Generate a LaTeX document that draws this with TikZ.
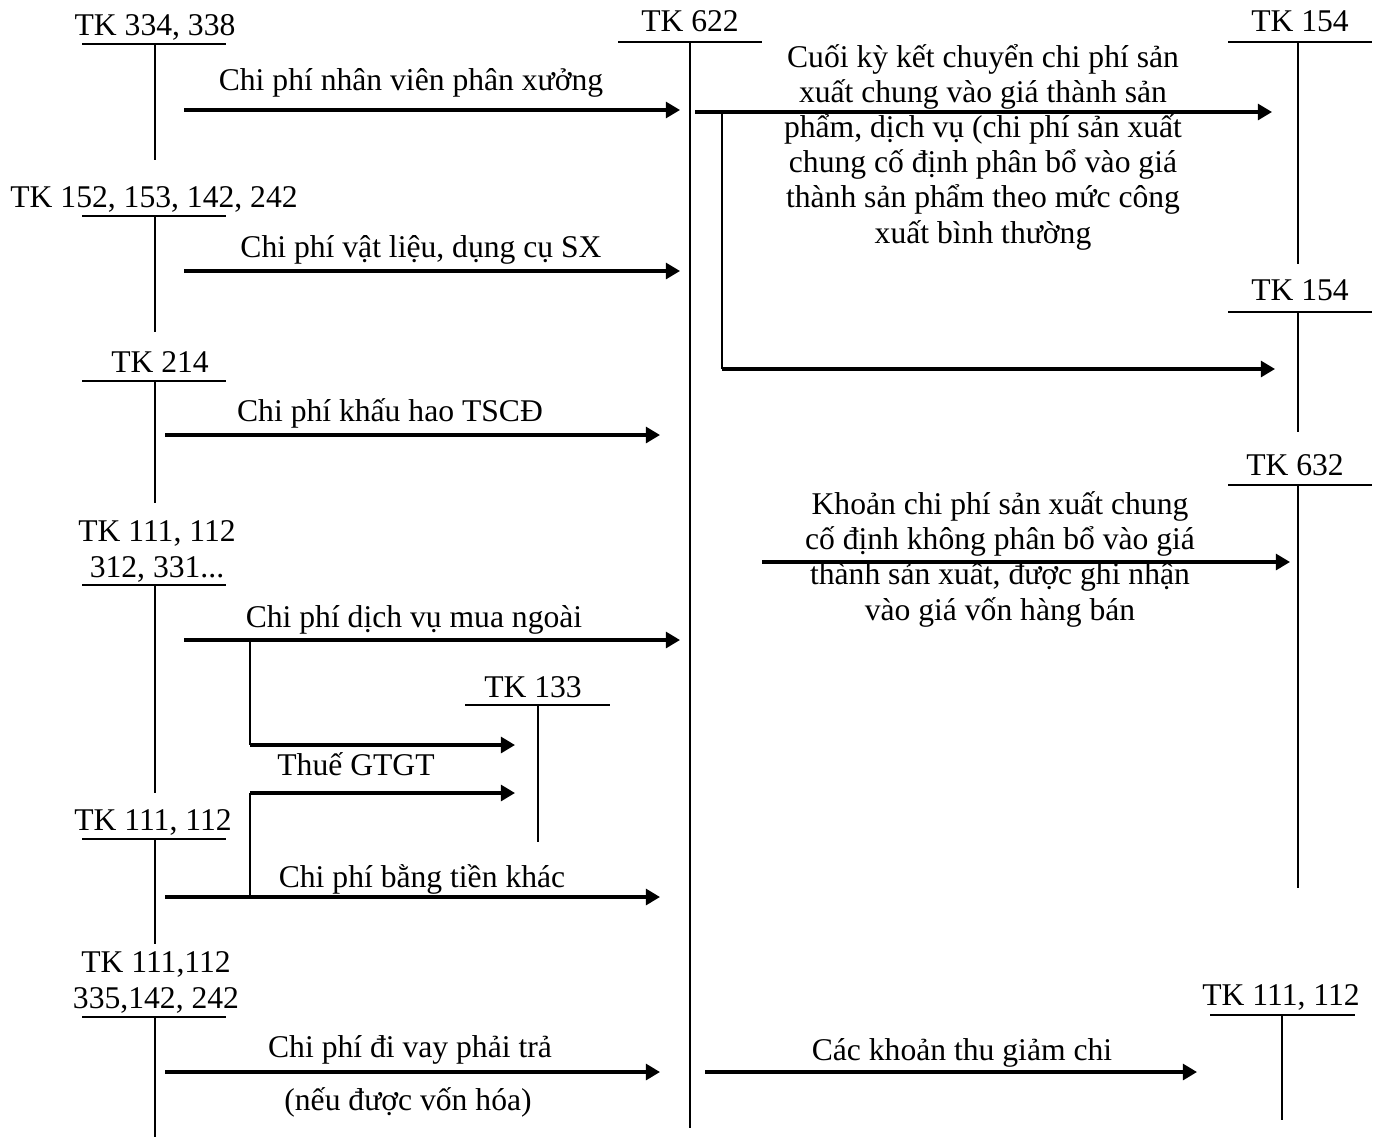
\documentclass[tikz,border=0pt]{standalone}
\usepackage{fontspec}
\setmainfont{Liberation Serif}
\usetikzlibrary{arrows.meta, positioning}

\tikzset{
  tline/.style={line width=1.1pt},
  thin branch/.style={line width=1.1pt},
  flow/.style={line width=1.8pt, -{Triangle[length=8pt, width=9pt]}},
  acct/.style={font=\fontsize{18}{20}\selectfont, anchor=base, inner sep=0pt, align=center},
  flowlabel/.style={font=\fontsize{18}{20}\selectfont, anchor=base, inner sep=0pt, align=center},
}

\begin{document}
\begin{tikzpicture}[x=0.02cm, y=-0.02cm]
  \useasboundingbox (0,0) rectangle (1382,1137);

  % --- Left accounts ---
  % TK 334, 338
  \node[acct] (tk334) at (155,35) {TK 334, 338};
  \draw[tline] (82,44) -- (226,44);
  \draw[tline] (155,44) -- (155,160);
  % TK 152, 153, 142, 242
  \node[acct] (tk152) at (154,207) {TK 152, 153, 142, 242};
  \draw[tline] (82,216) -- (226,216);
  \draw[tline] (155,216) -- (155,332);
  % TK 214
  \node[acct] (tk214) at (160,372) {TK 214};
  \draw[tline] (82,381) -- (226,381);
  \draw[tline] (155,381) -- (155,503);
  % TK 111, 112 / 312, 331...
  \node[acct] (tk111a) at (157,577) {TK 111, 112\\312, 331...};
  \draw[tline] (82,585) -- (226,585);
  \draw[tline] (155,585) -- (155,793);
  % TK 111, 112
  \node[acct] (tk111b) at (153,830) {TK 111, 112};
  \draw[tline] (82,839) -- (226,839);
  \draw[tline] (155,839) -- (155,944);
  % TK 111,112 / 335,142, 242
  \node[acct] (tk111c) at (156,1008) {TK 111,112\\335,142, 242};
  \draw[tline] (82,1017) -- (226,1017);
  \draw[tline] (155,1017) -- (155,1137);

  % --- Middle accounts ---
  % TK 622
  \node[acct] (tk622) at (690,31) {TK 622};
  \draw[tline] (618,42) -- (762,42);
  \draw[tline] (690,42) -- (690,1128);
  % TK 133
  \node[acct] (tk133) at (533,697) {TK 133};
  \draw[tline] (465,705) -- (610,705);
  \draw[tline] (538,705) -- (538,842);

  % --- Right accounts ---
  % TK 154 (top)
  \node[acct] (tk154a) at (1300,31) {TK 154};
  \draw[tline] (1228,42) -- (1372,42);
  \draw[tline] (1298,42) -- (1298,264);
  % TK 154 (second)
  \node[acct] (tk154b) at (1300,300) {TK 154};
  \draw[tline] (1228,312) -- (1372,312);
  \draw[tline] (1298,312) -- (1298,432);
  % TK 632
  \node[acct] (tk632) at (1295,475) {TK 632};
  \draw[tline] (1228,485) -- (1372,485);
  \draw[tline] (1298,485) -- (1298,888);
  % TK 111, 112 (right)
  \node[acct] (tk111d) at (1281,1005) {TK 111, 112};
  \draw[tline] (1210,1015) -- (1355,1015);
  \draw[tline] (1282,1015) -- (1282,1120);

  % --- Flows into TK 622 ---
  \coordinate (a1s) at (184,110);  \coordinate (a1e) at (680,110);
  \draw[flow] (a1s) -- (a1e);
  \node[flowlabel] (l1) at (411,90) {Chi phí nhân viên phân xưởng};

  \coordinate (a2s) at (184,271);  \coordinate (a2e) at (680,271);
  \draw[flow] (a2s) -- (a2e);
  \node[flowlabel] (l2) at (421,257) {Chi phí vật liệu, dụng cụ SX};

  \coordinate (a3s) at (165,435);  \coordinate (a3e) at (660,435);
  \draw[flow] (a3s) -- (a3e);
  \node[flowlabel] (l3) at (390,421) {Chi phí khấu hao TSCĐ};

  \coordinate (a4s) at (184,640);  \coordinate (a4e) at (680,640);
  \draw[flow] (a4s) -- (a4e);
  \node[flowlabel] (l4) at (414,627) {Chi phí dịch vụ mua ngoài};

  % VAT branches to TK 133
  \coordinate (v1k) at (250,640);  \coordinate (v1c) at (250,745);
  \coordinate (v1e) at (515,745);
  \draw[thin branch] (v1k) -- (v1c);
  \draw[flow] (v1c) -- (v1e);
  \node[flowlabel] (lvat) at (356,775) {Thuế GTGT};
  \coordinate (v2k) at (250,897);  \coordinate (v2c) at (250,793);
  \coordinate (v2e) at (515,793);
  \draw[thin branch] (v2k) -- (v2c);
  \draw[flow] (v2c) -- (v2e);

  \coordinate (a6s) at (165,897);  \coordinate (a6e) at (660,897);
  \draw[flow] (a6s) -- (a6e);
  \node[flowlabel] (l6) at (422,887) {Chi phí bằng tiền khác};

  \coordinate (a7s) at (165,1072); \coordinate (a7e) at (660,1072);
  \draw[flow] (a7s) -- (a7e);
  \node[flowlabel] (l7) at (410,1057) {Chi phí đi vay phải trả};
  \node[flowlabel] (l7b) at (408,1110) {(nếu được vốn hóa)};

  % --- Flows out of TK 622 ---
  \coordinate (b1s) at (695,112);  \coordinate (b1e) at (1272,112);
  \draw[flow] (b1s) -- (b1e);
  \node[flowlabel] (lb1) at (983,243) {Cuối kỳ kết chuyển chi phí sản\\xuất chung vào giá thành sản\\phẩm, dịch vụ (chi phí sản xuất\\chung cố định phân bổ vào giá\\thành sản phẩm theo mức công\\xuất bình thường};
  \coordinate (b2k) at (722,112);  \coordinate (b2c) at (722,369);
  \coordinate (b2e) at (1275,369);
  \draw[thin branch] (b2k) -- (b2c);
  \draw[flow] (b2c) -- (b2e);

  \coordinate (b3s) at (762,562);  \coordinate (b3e) at (1290,562);
  \draw[flow] (b3s) -- (b3e);
  \node[flowlabel] (lb3) at (1000,620) {Khoản chi phí sản xuất chung\\cố định không phân bổ vào giá\\thành sản xuất, được ghi nhận\\vào giá vốn hàng bán};

  \coordinate (b4s) at (705,1072); \coordinate (b4e) at (1197,1072);
  \draw[flow] (b4s) -- (b4e);
  \node[flowlabel] (lb4) at (962,1060) {Các khoản thu giảm chi};
\end{tikzpicture}
\end{document}
